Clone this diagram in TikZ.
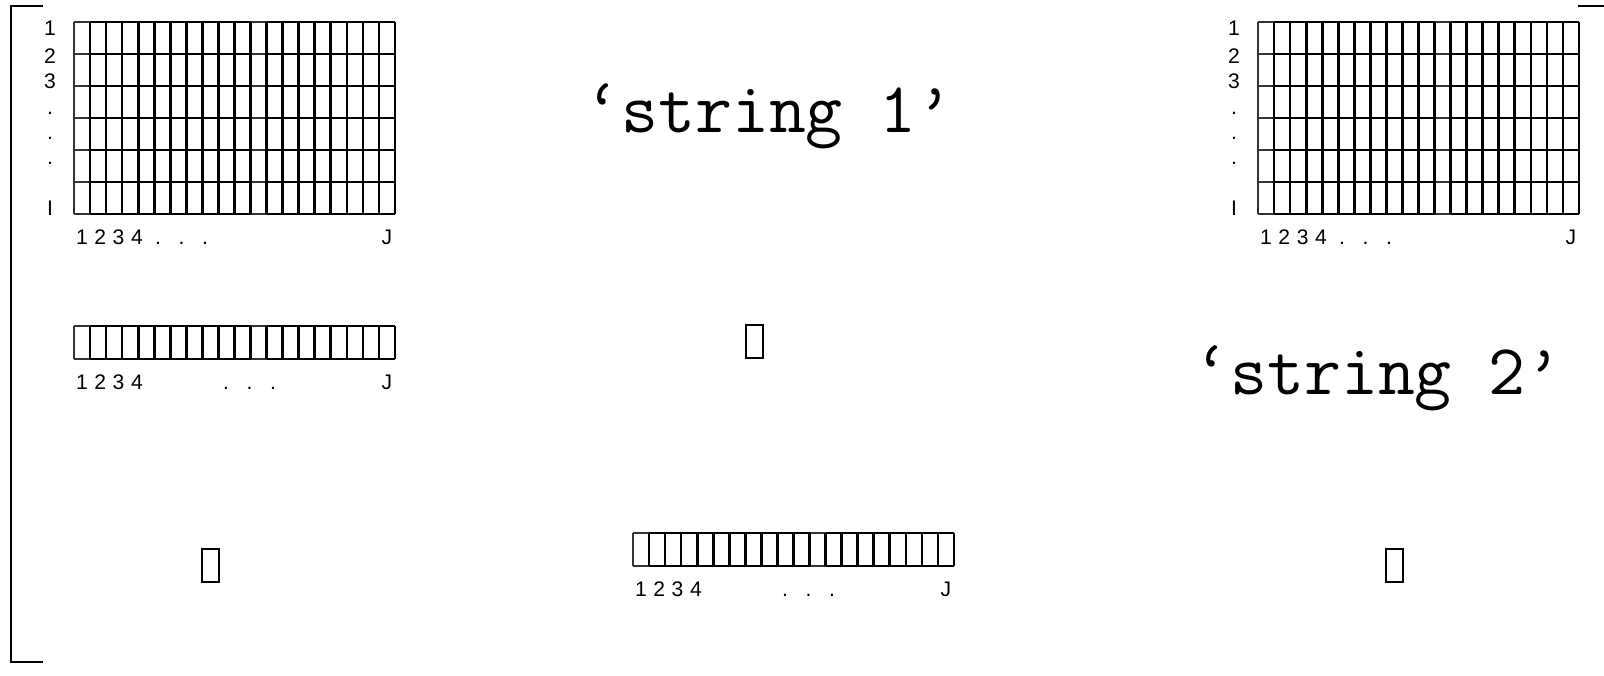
\documentclass[tikz,border=0pt]{standalone}
\usepackage{fontspec}
\setsansfont{Liberation Sans}
\begin{document}
\begin{tikzpicture}[x=0.025cm,y=-0.025cm,
  cell/.style={black,line width=1.9pt},
  faint/.style={black!80,line width=1.2pt},
  bracket/.style={black,line width=1.3pt},
  idx/.style={font=\sffamily\fontsize{15}{18}\selectfont,anchor=base,inner sep=0pt},
  strlabel/.style={font=\ttfamily\fontsize{51}{60}\selectfont,anchor=base,inner sep=0pt}]
  \useasboundingbox (0,0) rectangle (1604,676);
  % brackets at the sides
  \draw[bracket] (43,6) -- (11,6) -- (11,662) -- (43,662);
  \draw[bracket] (1578,6) -- (1604,6);
  % arrays: left x / top y / rows / row height / first dot offset
  \foreach \gx/\gy/\nr/\h/\dx in {74/22/6/32/84, 1258/22/6/32/84, 74/326/1/33/152, 633/533/1/33/152} {
    \foreach \r in {0,...,\nr} {
      \draw[faint] (\gx,{\gy+\r*\h}) -- ++(16.05,0);
      \draw[faint] ({\gx+11*16.05},{\gy+\r*\h}) -- ++(16.05,0);
      \draw[cell] ({\gx+16.05},{\gy+\r*\h}) -- ++(160.5,0);
      \draw[cell] ({\gx+12*16.05},{\gy+\r*\h}) -- ++(128.4,0);
    }
    \draw[faint] (\gx,\gy) -- ++(0,{\nr*\h});
    \foreach \c in {1,...,20}
      \draw[cell] ({\gx+\c*16.05},\gy) -- ++(0,{\nr*\h});
    % column numbers
    \foreach \d [count=\i from 0] in {1,2,3,4}
      \node[idx] (col\gx-\gy-\d) at ({\gx+8+\i*18.3},{\gy+\nr*\h+30}) {\d};
    \foreach \i in {0,1,2}
      \node[idx] (dot\gx-\gy-\i) at ({\gx+\dx+\i*23.5},{\gy+\nr*\h+30}) {.};
    \node[idx] (J\gx-\gy) at ({\gx+313},{\gy+\nr*\h+30}) {J};
  }
  % row numbers
  \foreach \gx in {74,1258}
    \foreach \t/\yb [count=\i] in {1/36, 2/64, 3/89, ./115, ./140, ./165, I/215}
      \node[idx] (row\gx-\i) at ({\gx-24},\yb) {\t};
  \node[strlabel] (str1) at (769,133) {‘string 1’};
  \node[strlabel] (str2) at (1378,394) {‘string 2’};
  % empty boxes
  \foreach \bx/\by in {746/325, 202/549, 1386/549}
    \draw[cell] (\bx,\by) rectangle ++(17,33);
\end{tikzpicture}
\end{document}
